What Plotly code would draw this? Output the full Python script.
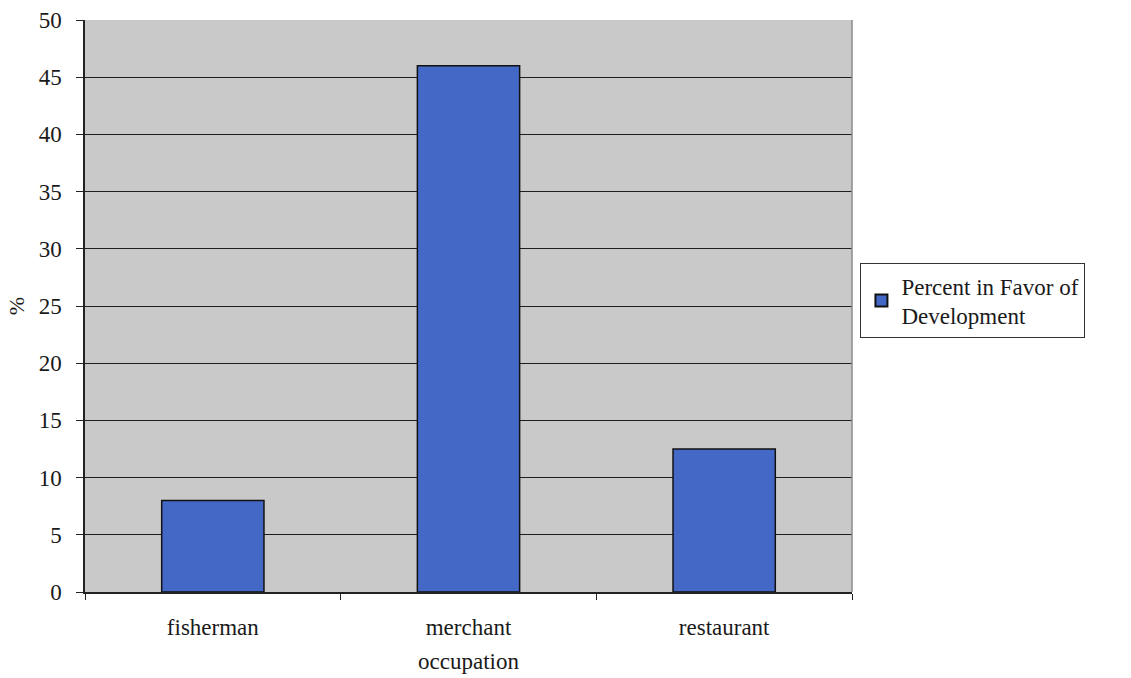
import plotly.graph_objects as go

# Share of respondents in each occupation in favour of development
occupations = ["fisherman", "merchant", "restaurant"]
percent_in_favor = [8, 46, 12.5]
series_name = "Percent in Favor of<br>Development"

y_ticks = [0, 5, 10, 15, 20, 25, 30, 35, 40, 45, 50]

FONT = "Liberation Serif, Times New Roman, serif"
BAR_COLOR = "#4368c6"
PLOT_BG = "#c9c9c9"

fig = go.Figure()
fig.add_trace(go.Bar(
    x=occupations,
    y=percent_in_favor,
    name=series_name,
    marker=dict(color=BAR_COLOR, line=dict(color="#111111", width=1.5)),
    width=0.4,
    showlegend=True,
))

fig.update_layout(
    width=1131,
    height=678,
    margin=dict(l=85, r=279, t=20, b=86, autoexpand=False),
    paper_bgcolor="white",
    plot_bgcolor=PLOT_BG,
    font=dict(family=FONT, size=22, color="#1a1a1a"),
    showlegend=True,
    legend=dict(
        x=1.011, y=0.575, xanchor="left", yanchor="top",
        bgcolor="white", bordercolor="#333333", borderwidth=1,
        font=dict(family=FONT, size=23, color="#1a1a1a"),
        itemsizing="constant",
        tracegroupgap=0,
    ),
    bargap=0.6,
)

fig.update_xaxes(
    type="category",
    automargin=False,
    showgrid=False,
    showline=True, linecolor="#222222", linewidth=1.5,
    ticks="outside", tickson="boundaries", ticklen=6, tickcolor="#222222",
    ticklabelstandoff=14,
    tickfont=dict(family=FONT, size=23),
    title=dict(text="occupation", font=dict(family=FONT, size=23), standoff=14),
)

fig.update_yaxes(
    range=[0, 50],
    automargin=False,
    tickvals=y_ticks,
    showgrid=True, gridcolor="#1e1e1e", gridwidth=1,
    showline=True, linecolor="#222222", linewidth=1.5,
    ticks="outside", ticklen=7, tickcolor="#222222",
    ticklabelstandoff=10,
    tickfont=dict(family=FONT, size=23),
    zeroline=False,
    title=dict(text="%", font=dict(family=FONT, size=22), standoff=8),
)

# light frame on the right side of the plotting area
fig.add_shape(type="line", xref="paper", yref="paper",
              x0=1, x1=1, y0=0, y1=1,
              line=dict(color="#8a8a8a", width=1.5))

fig.write_html("out.html")
